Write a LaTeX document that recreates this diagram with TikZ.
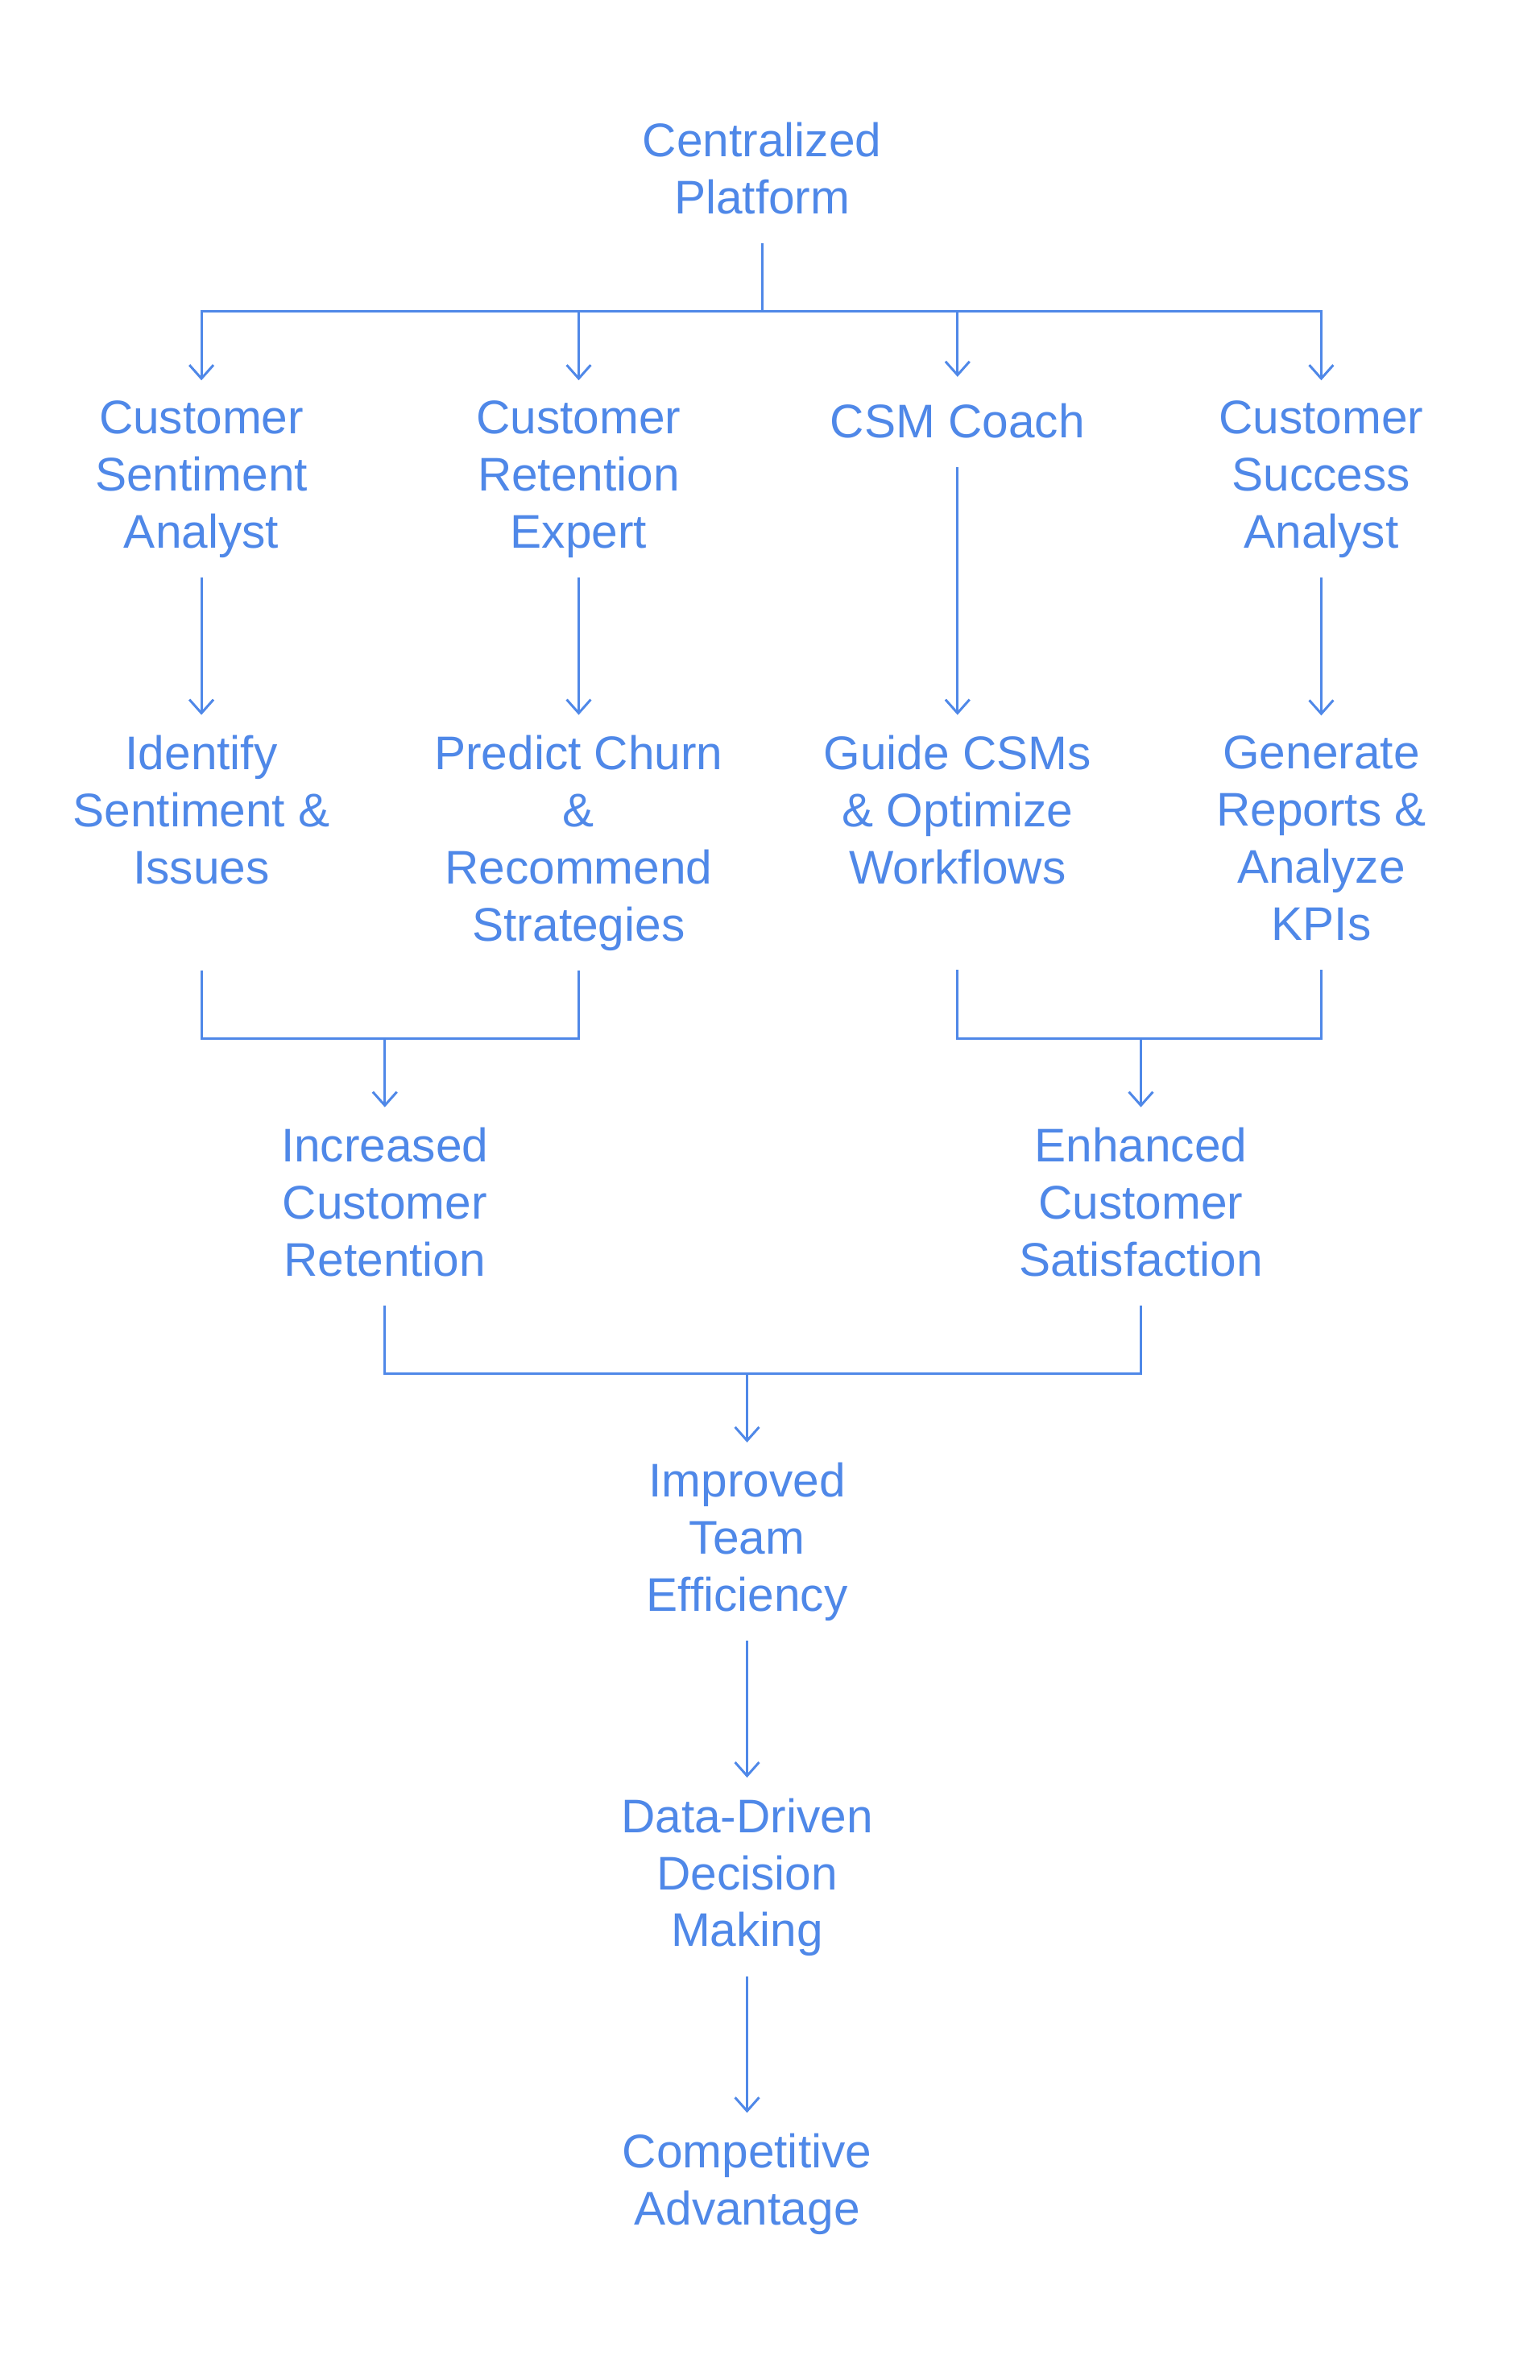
\documentclass[tikz,border=0pt]{standalone}
\usepackage{fontspec}
\setmainfont{Liberation Sans}
\usepackage{xcolor}
\usetikzlibrary{arrows.meta}
\definecolor{flowblue}{HTML}{4F88E8}

\begin{document}
\begin{tikzpicture}[x=1pt,y=-1pt,
    label/.style={align=center, text=flowblue, inner sep=8pt,
      font=\fontsize{31.4}{38}\selectfont,
      execute at begin node=\strut, execute at end node=\strut},
    line/.style={draw=flowblue, line width=1.6pt},
    arr/.style={line, -{Straight Barb[length=9pt,width=16pt]}, shorten >=5.5pt}]
  \useasboundingbox (0,0) rectangle (1024,1583.4);

  \node[label] (cp) at (507,117.4) {Centralized\\Platform};

  \node[label] (csa) at (134,321.4) {Customer\\Sentiment\\Analyst};
  \node[label] (cre) at (385,321.4) {Customer\\Retention\\Expert};
  \node[label] (csm) at (637,283.4) {CSM Coach};
  \node[label] (cus) at (879,321.4) {Customer\\Success\\Analyst};

  \node[label] (ident) at (134,544.4) {Identify\\Sentiment \&\\Issues};
  \node[label] (pred) at (385,563.4) {Predict Churn\\\&\\Recommend\\Strategies};
  \node[label] (guide) at (637,544.4) {Guide CSMs\\\& Optimize\\Workflows};
  \node[label] (gen) at (879,563.4) {Generate\\Reports \&\\Analyze\\KPIs};

  \node[label] (incr) at (256,805.4) {Increased\\Customer\\Retention};
  \node[label] (enh) at (759,805.4) {Enhanced\\Customer\\Satisfaction};

  \node[label] (team) at (497,1028.4) {Improved\\Team\\Efficiency};
  \node[label] (data) at (497,1251.4) {Data-Driven\\Decision\\Making};
  \node[label] (comp) at (497,1455.4) {Competitive\\Advantage};

  % junctions
  \coordinate (j0) at (507,207);
  \coordinate (j1) at (256,691);
  \coordinate (j2) at (759,691);
  \coordinate (j3) at (497,914);

  \draw[line] (cp) -- (j0);
  \foreach \n in {csa,cre,csm,cus}
    \draw[arr] (j0) -| (\n);

  \draw[arr] (csa) -- (ident);
  \draw[arr] (cre) -- (pred);
  \draw[arr] (csm) -- (guide);
  \draw[arr] (cus) -- (gen);

  \draw[line] (ident.south |- pred.south) |- (j1) -| (pred.south);
  \draw[arr] (j1) -- (incr);
  \draw[line] (guide.south |- gen.south) |- (j2) -| (gen.south);
  \draw[arr] (j2) -- (enh);

  \draw[line] (incr.south) |- (j3) -| (enh.south);
  \draw[arr] (j3) -- (team);
  \draw[arr] (team) -- (data);
  \draw[arr] (data) -- (comp);
\end{tikzpicture}
\end{document}
